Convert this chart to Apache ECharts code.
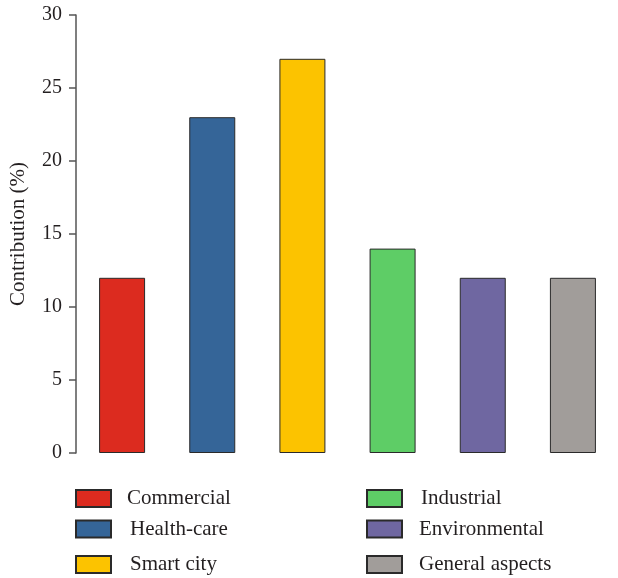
<!DOCTYPE html>
<html>
<head>
<meta charset="utf-8">
<script src="https://cdn.jsdelivr.net/npm/echarts@6/dist/echarts.min.js"></script>
<style>html,body{margin:0;padding:0;background:#fff}#c{width:618px;height:578px}</style>
</head>
<body>
<div id="c"></div>
<script>
const categories = ['Commercial', 'Health-care', 'Smart city', 'Industrial', 'Environmental', 'General aspects'];
const values = [12, 23, 27, 14, 12, 12];
const colors = ['#dc2b1f', '#356598', '#fcc300', '#5ecd66', '#6f67a1', '#a19d9a'];
const yTicks = [0, 5, 10, 15, 20, 25, 30];

const FONT = 'Liberation Serif';
const TXT = '#231f20';

const series = categories.map((name, i) => ({
  name: name,
  type: 'bar',
  stack: 'all',
  barWidth: 46,
  data: categories.map((c, j) => (j === i ? values[i] : '-')),
  itemStyle: { color: colors[i], borderColor: '#2a2a2a', borderWidth: 1 }
}));

// legend placement: [left, top, textPadLeft]
const legendPos = [
  [75, 488, 11], [75, 518.5, 14], [75, 554, 14],
  [366, 488, 14], [366, 518.5, 12], [366, 554, 12]
];
const legends = categories.map((name, i) => ({
  data: [name],
  left: legendPos[i][0],
  top: legendPos[i][1],
  padding: 0,
  itemWidth: 35,
  itemHeight: 17,
  icon: 'rect',
  selectedMode: false,
  textStyle: { fontFamily: FONT, fontSize: 21, color: TXT, padding: [0, 0, 0, legendPos[i][2]] }
}));

const chart = echarts.init(document.getElementById('c'), null, { renderer: 'canvas' });
chart.setOption({
  animation: false,
  backgroundColor: '#fff',
  grid: { left: 77, right: -1, top: 15, bottom: 125, containLabel: false },
  legend: legends,
  xAxis: {
    type: 'category',
    data: categories,
    axisLine: { show: false },
    axisTick: { show: false },
    axisLabel: { show: false },
    splitLine: { show: false }
  },
  yAxis: {
    type: 'value',
    offset: 1,
    min: yTicks[0],
    max: yTicks[yTicks.length - 1],
    interval: 5,
    name: 'Contribution (%)',
    nameLocation: 'middle',
    nameGap: 47,
    nameTextStyle: { fontFamily: FONT, fontSize: 21, color: TXT },
    axisLine: { show: true, lineStyle: { color: '#555', width: 1.5 } },
    axisTick: { show: true, length: 7, lineStyle: { color: '#555', width: 1.5 } },
    axisLabel: { fontFamily: FONT, fontSize: 20, color: TXT, margin: 14 },
    splitLine: { show: false }
  },
  series: series
});
</script>
</body>
</html>
